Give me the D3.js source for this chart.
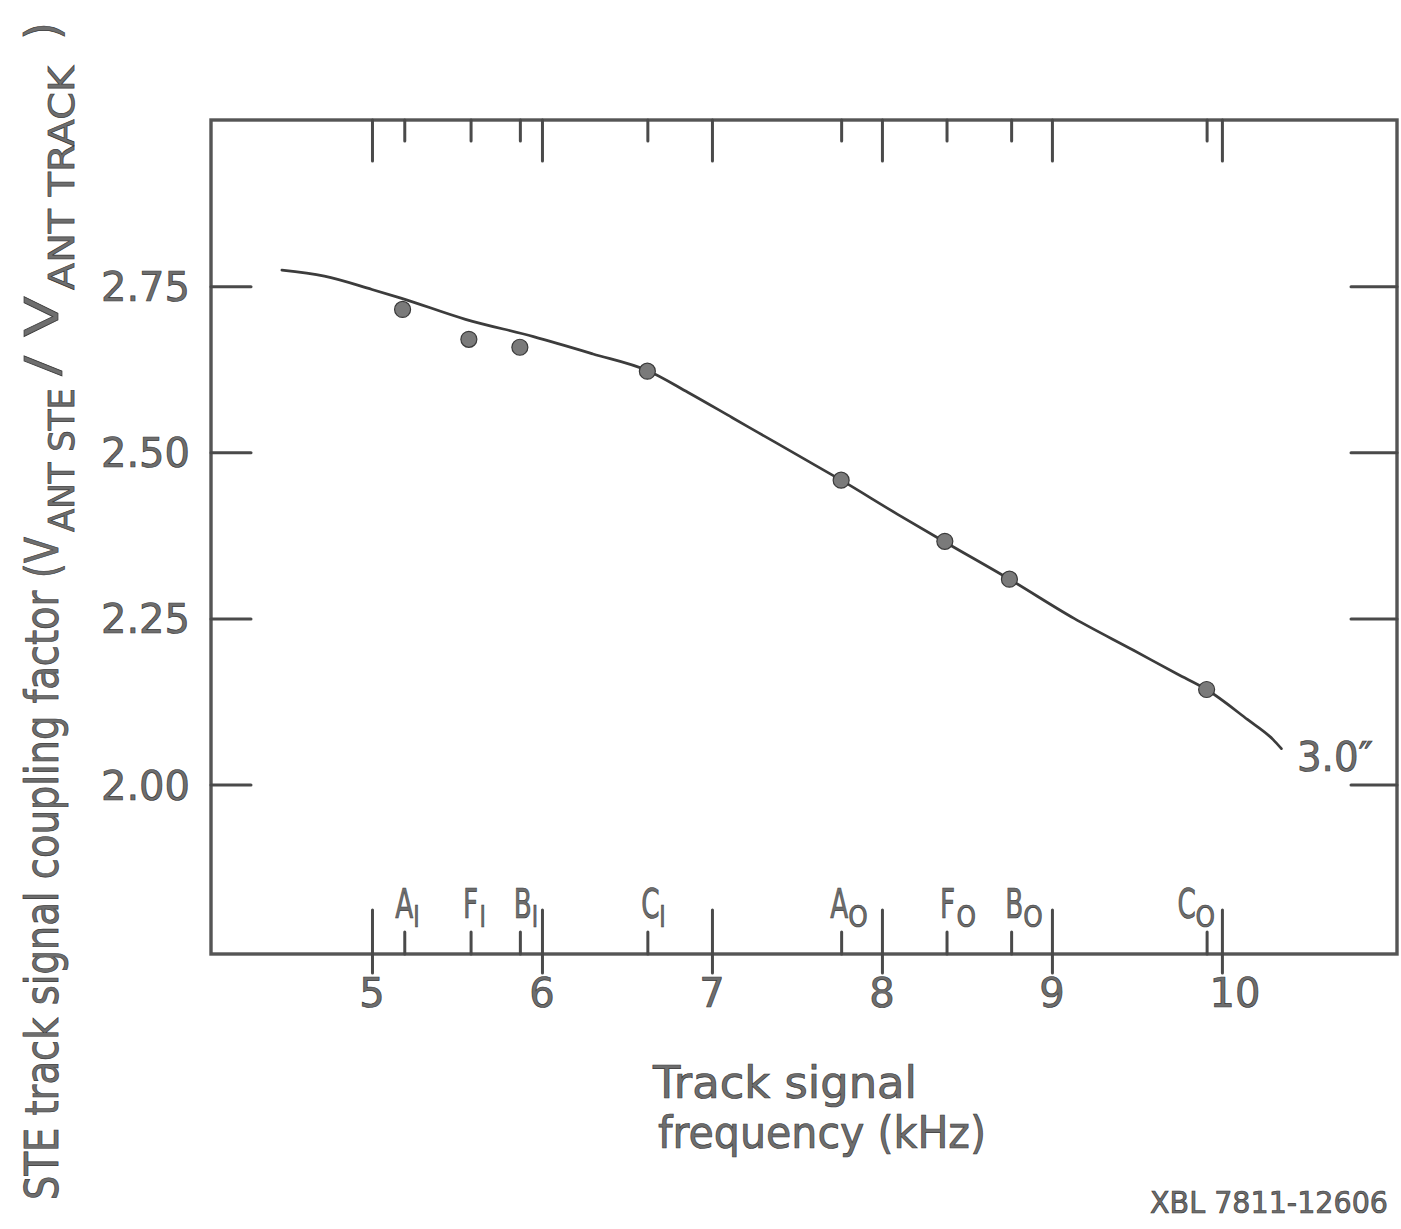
<!DOCTYPE html>
<html>
<head>
<meta charset="utf-8">
<script src="https://cdn.jsdelivr.net/npm/d3@7"></script>
<style>
  html, body { margin: 0; padding: 0; background: #fff; }
  svg { display: block; }
  text { font-family: "DejaVu Sans", sans-serif; fill: #6e6e6e; stroke: #3a3a3a; stroke-width: 0.7px; }
</style>
</head>
<body>
<svg id="chart" width="1401" height="1229"></svg>
<script>
// ---- data ----
const xTicks = [5, 6, 7, 8, 9, 10];
const xTickLabels = ["5", "6", "7", "8", "9", "10"];
const yTicks = [2.00, 2.25, 2.50, 2.75];
const yTickLabels = ["2.00", "2.25", "2.50", "2.75"];

const stationLetters = ["A", "F", "B", "C", "A", "F", "B", "C"];
const stationSubs = ["I", "I", "I", "I", "O", "O", "O", "O"];
const stationFreq = [5.19, 5.58, 5.87, 6.62, 7.76, 8.38, 8.76, 9.91];

const measuredFreq = [5.18, 5.57, 5.87, 6.62, 7.76, 8.37, 8.75, 9.91];
const measuredCoupling = [2.715, 2.670, 2.658, 2.622, 2.458, 2.366, 2.309, 2.143];

const curveFreq = [4.47, 4.72, 5.00, 5.17, 5.55, 5.95, 6.30, 6.62, 6.86, 7.12, 7.27, 7.55, 7.76, 8.09, 8.37, 8.75, 9.13, 9.48, 9.74, 9.91, 10.15, 10.30, 10.35];
const curveCoupling = [2.774, 2.765, 2.745, 2.732, 2.700, 2.674, 2.648, 2.623, 2.590, 2.552, 2.530, 2.489, 2.458, 2.407, 2.365, 2.309, 2.250, 2.202, 2.166, 2.143, 2.098, 2.068, 2.054];

const curveLabel = "3.0\u2033";
const xTitle1 = "Track signal";
const xTitle2 = "frequency (kHz)";
const stamp = "XBL 7811-12606";
const yTitleMain = "STE track signal coupling factor (V";
const yTitleSub1 = "ANT STE";
const yTitleMid = "/ V";
const yTitleSub2 = "ANT TRACK";
const yTitleEnd = ")";

// ---- layout ----
const svg = d3.select("#chart");
const L = 211, R = 1397, T = 120, B = 954;
const x = d3.scaleLinear().domain([4.053, 11.03]).range([L, R]);
const y = d3.scaleLinear().domain([1.745, 3.0]).range([B, T]);
const ink = "#3c3c3c";

// frame
svg.append("rect").attr("x", L).attr("y", T).attr("width", R - L).attr("height", B - T)
  .attr("fill", "none").attr("stroke", "#555").attr("stroke-width", 3.4);

// top ticks (integers long, stations short)
const gTop = svg.append("g").attr("transform", `translate(0,${T})`);
gTop.call(d3.axisTop(x).tickValues(xTicks).tickSize(-41).tickFormat(""));
gTop.append("g").call(d3.axisTop(x).tickValues(stationFreq).tickSize(-21).tickFormat(""));
gTop.selectAll(".domain").remove();

// bottom: integers long crossing, stations short up
const gBot = svg.append("g").attr("transform", `translate(0,${B})`);
gBot.call(d3.axisBottom(x).tickValues(xTicks).tickSize(19).tickFormat(""));
gBot.append("g").call(d3.axisBottom(x).tickValues(xTicks).tickSize(-44).tickFormat(""));
gBot.append("g").call(d3.axisBottom(x).tickValues(stationFreq).tickSize(-22).tickFormat(""));
gBot.selectAll(".domain").remove();

// left / right ticks
const gL = svg.append("g").attr("transform", `translate(${L},0)`);
gL.call(d3.axisLeft(y).tickValues(yTicks).tickSize(-40).tickFormat(""));
gL.selectAll(".domain").remove();
const gR = svg.append("g").attr("transform", `translate(${R},0)`);
gR.call(d3.axisRight(y).tickValues(yTicks).tickSize(-46).tickFormat(""));
gR.selectAll(".domain").remove();

svg.selectAll(".tick line").attr("stroke", "#4a4a4a").attr("stroke-width", 3).attr("stroke-linecap", "round");

// y tick labels
svg.append("g").selectAll("text").data(yTicks).join("text")
  .attr("x", 190).attr("y", d => y(d) + 15)
  .attr("text-anchor", "end").attr("font-size", 40)
  .text((d, i) => yTickLabels[i]);

// x tick labels
svg.append("g").selectAll("text").data(xTicks).join("text")
  .attr("x", d => x(d) + (d === 10 ? 13 : 0)).attr("y", 1007)
  .attr("text-anchor", "middle").attr("font-size", 40)
  .text((d, i) => xTickLabels[i]);

// station labels
const stationOffset = [0, 0, 3, 3, -2, 1, 3, -20];
const gS = svg.append("g");
stationFreq.forEach((f, i) => {
  const cx = x(f) + stationOffset[i];
  gS.append("text")
    .attr("transform", `translate(${cx},918) scale(0.64,1)`)
    .attr("text-anchor", "middle").attr("font-size", 41)
    .text(stationLetters[i]);
  gS.append("text")
    .attr("transform", `translate(${cx + 9},927) scale(${stationSubs[i] === "O" ? 0.8 : 0.7},1)`)
    .attr("text-anchor", "start").attr("font-size", 31)
    .text(stationSubs[i]);
});

// curve
const line = d3.line().x(d => x(d[0])).y(d => y(d[1])).curve(d3.curveMonotoneX);
svg.append("path").datum(curveFreq.map((f, i) => [f, curveCoupling[i]]))
  .attr("d", line).attr("fill", "none").attr("stroke", ink).attr("stroke-width", 2.7)
  .attr("stroke-linecap", "round");

// points
svg.append("g").selectAll("circle").data(measuredFreq).join("circle")
  .attr("cx", d => x(d)).attr("cy", (d, i) => y(measuredCoupling[i]))
  .attr("r", 8).attr("fill", "#7a7a7a").attr("stroke", "#3a3a3a").attr("stroke-width", 1.2);

// curve label
svg.append("text").attr("x", 1297).attr("y", 771).attr("font-size", 40)
  .attr("textLength", 76).attr("lengthAdjust", "spacingAndGlyphs").text(curveLabel);

// x title
svg.append("text").attr("x", 653).attr("y", 1098).attr("font-size", 44)
  .attr("textLength", 264).attr("lengthAdjust", "spacingAndGlyphs").text(xTitle1);
svg.append("text").attr("x", 658).attr("y", 1148).attr("font-size", 44)
  .attr("textLength", 328).attr("lengthAdjust", "spacingAndGlyphs").text(xTitle2);

// stamp
svg.append("text").attr("x", 1150).attr("y", 1213).attr("font-size", 31)
  .attr("textLength", 238).attr("lengthAdjust", "spacingAndGlyphs").text(stamp);

// y title (rotated, pieces)
function vText(str, yStart, yEnd, xBase, size) {
  const t = svg.append("text")
    .attr("transform", `translate(${xBase},${yStart}) rotate(-90)`)
    .attr("font-size", size)
    .text(str);
  if (yEnd !== null) t.attr("textLength", yStart - yEnd).attr("lengthAdjust", "spacingAndGlyphs");
}
vText(yTitleMain, 1200, 537, 58, 46);
vText(yTitleSub1, 532, 388, 74, 36);
vText(yTitleMid, 376, 296, 58, 46);
vText(yTitleSub2, 290, 66, 74, 36);
vText(yTitleEnd, 40, null, 58, 46);
</script>
</body>
</html>
